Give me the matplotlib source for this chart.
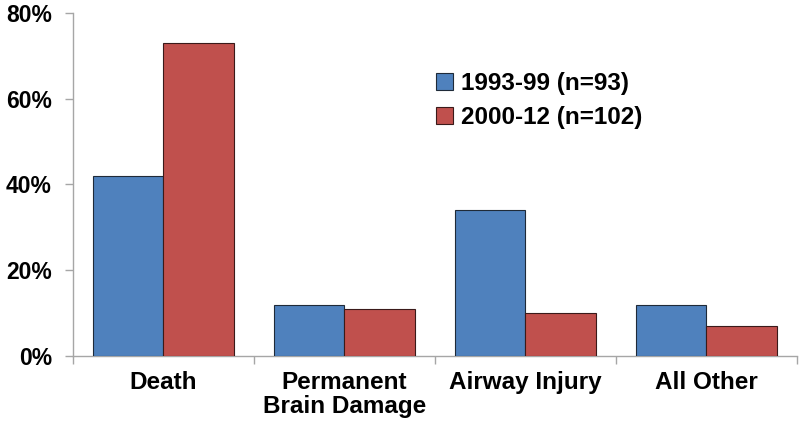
import numpy as np
import matplotlib.pyplot as plt
from matplotlib.ticker import FixedLocator, NullFormatter

plt.rcParams["font.family"] = ["Liberation Sans", "DejaVu Sans"]
plt.rcParams["font.weight"] = "bold"

categories = ["Death", "Permanent\nBrain Damage", "Airway Injury", "All Other"]
series_labels = ["1993-99 (n=93)", "2000-12 (n=102)"]
early = [42, 12, 34, 12]
late = [73, 11, 10, 7]
yticks = [0, 20, 40, 60, 80]

fig = plt.figure(figsize=(8, 4.28), dpi=100)
ax = fig.add_axes([0.091, 0.168, 0.905, 0.802])

x = np.arange(len(categories))
w = 0.39
ax.bar(x - w / 2, early, w, color="#4F81BD", edgecolor="#1f2a38", linewidth=0.8,
       label=series_labels[0], zorder=3)
ax.bar(x + w / 2, late, w, color="#C0504D", edgecolor="#3a1a1a", linewidth=0.8,
       label=series_labels[1], zorder=3)

ax.set_xlim(-0.5, len(categories) - 0.5)
ax.set_ylim(0, 80)
ax.set_yticks(yticks)
ax.set_yticklabels([f"{v}%" for v in yticks], fontsize=16.5, fontweight="bold")

ax.set_xticks(x)
ax.set_xticklabels(categories, fontsize=17.5, fontweight="bold", linespacing=1.05)
ax.tick_params(axis="x", which="major", length=0, pad=11)
ax.xaxis.set_minor_locator(FixedLocator(np.arange(-0.5, len(categories), 1.0)))
ax.xaxis.set_minor_formatter(NullFormatter())
ax.tick_params(axis="x", which="minor", length=6, color="#a6a6a6", width=1)
ax.tick_params(axis="y", length=6, color="#a6a6a6", width=1, pad=9)

for side in ["top", "right"]:
    ax.spines[side].set_visible(False)
for side in ["left", "bottom"]:
    ax.spines[side].set_color("#a6a6a6")
    ax.spines[side].set_linewidth(1)

ax.legend(loc="upper left", bbox_to_anchor=(0.472, 0.89), frameon=False,
          prop={"size": 17.5, "weight": "bold"}, handlelength=0.7, handleheight=0.7,
          handletextpad=0.3, labelspacing=0.45)

fig.savefig("out.png", dpi=100)
